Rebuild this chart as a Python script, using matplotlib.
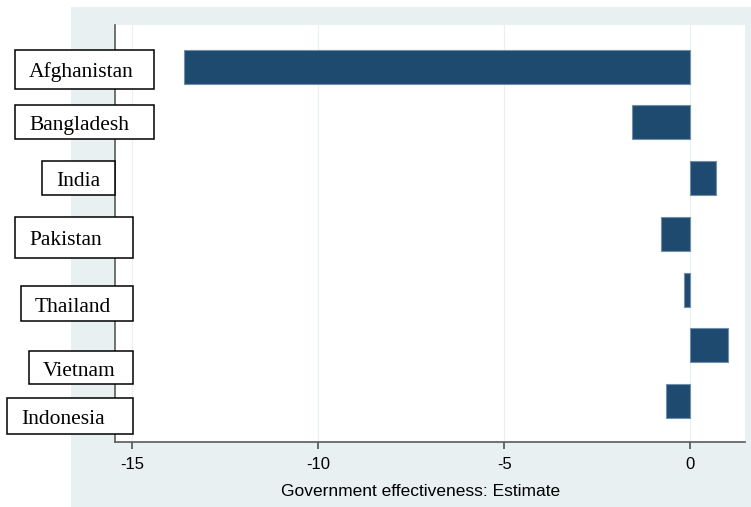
import matplotlib
matplotlib.use("Agg")
import matplotlib.pyplot as plt
from matplotlib.patches import Rectangle

countries = ["Afghanistan", "Bangladesh", "India", "Pakistan",
             "Thailand", "Vietnam", "Indonesia"]
estimates = [-13.62, -1.56, 0.70, -0.79, -0.17, 1.00, -0.645]
xticks = [-15, -10, -5, 0]
xlabel = "Government effectiveness: Estimate"

# label boxes (left, top, right, bottom) in pixels from the top-left corner
label_boxes = [
    (15, 50, 154, 89),
    (15, 105, 154, 139),
    (42, 161, 115, 195),
    (15, 217, 133, 258),
    (21, 286, 133, 321),
    (29, 351, 133, 384),
    (7, 398, 133, 434),
]

W, H = 751, 507
BG = "#e8f0f2"
BAR = "#1f4a70"

fig = plt.figure(figsize=(W / 100, H / 100), dpi=100)
fig.patch.set_facecolor("white")

# light graph region behind the plot
fig.add_artist(Rectangle((71 / W, 0), 1 - 71 / W, 1 - 7 / H,
                         transform=fig.transFigure, facecolor=BG,
                         edgecolor="none", zorder=0))

ax = fig.add_axes([115 / W, 1 - 442 / H, 630 / W, 417 / H])
ax.set_facecolor("white")
ax.set_zorder(1)

pos = list(range(len(countries)))
ax.barh(pos, estimates, height=0.61, color=BAR, edgecolor="#6f8fab",
        linewidth=0.8, zorder=3)

ax.set_xlim(-15.465, 1.47)
ax.set_ylim(6.735, -0.745)
ax.set_xticks(xticks)
ax.set_xticklabels([str(t) for t in xticks], fontfamily="Liberation Sans",
                   fontsize=12)
ax.set_yticks([])
ax.tick_params(axis="x", length=5, width=1.1, color="#444444", pad=6)
ax.grid(axis="x", color="#e9f0f2", linewidth=0.9, zorder=0)
ax.set_axisbelow(True)

for side in ["top", "right"]:
    ax.spines[side].set_visible(False)
for side in ["left", "bottom"]:
    ax.spines[side].set_color("#5a5a5a")
    ax.spines[side].set_linewidth(1.2)

ax.set_xlabel(xlabel, fontfamily="Liberation Sans", fontsize=12.5)
ax.xaxis.set_label_coords(0.485, -0.101)

# boxed country labels sitting over the y axis
for name, (l, t, r, b) in zip(countries, label_boxes):
    fig.add_artist(Rectangle((l / W, 1 - b / H), (r - l) / W, (b - t) / H,
                             transform=fig.transFigure, facecolor="white",
                             edgecolor="black", linewidth=1.1, zorder=5))
    fig.text((l + 14) / W, 1 - ((t + b) / 2 + 8) / H, name,
             fontfamily="Liberation Serif", fontsize=15.5,
             ha="left", va="baseline", zorder=6)

fig.savefig("out.png", dpi=100)
